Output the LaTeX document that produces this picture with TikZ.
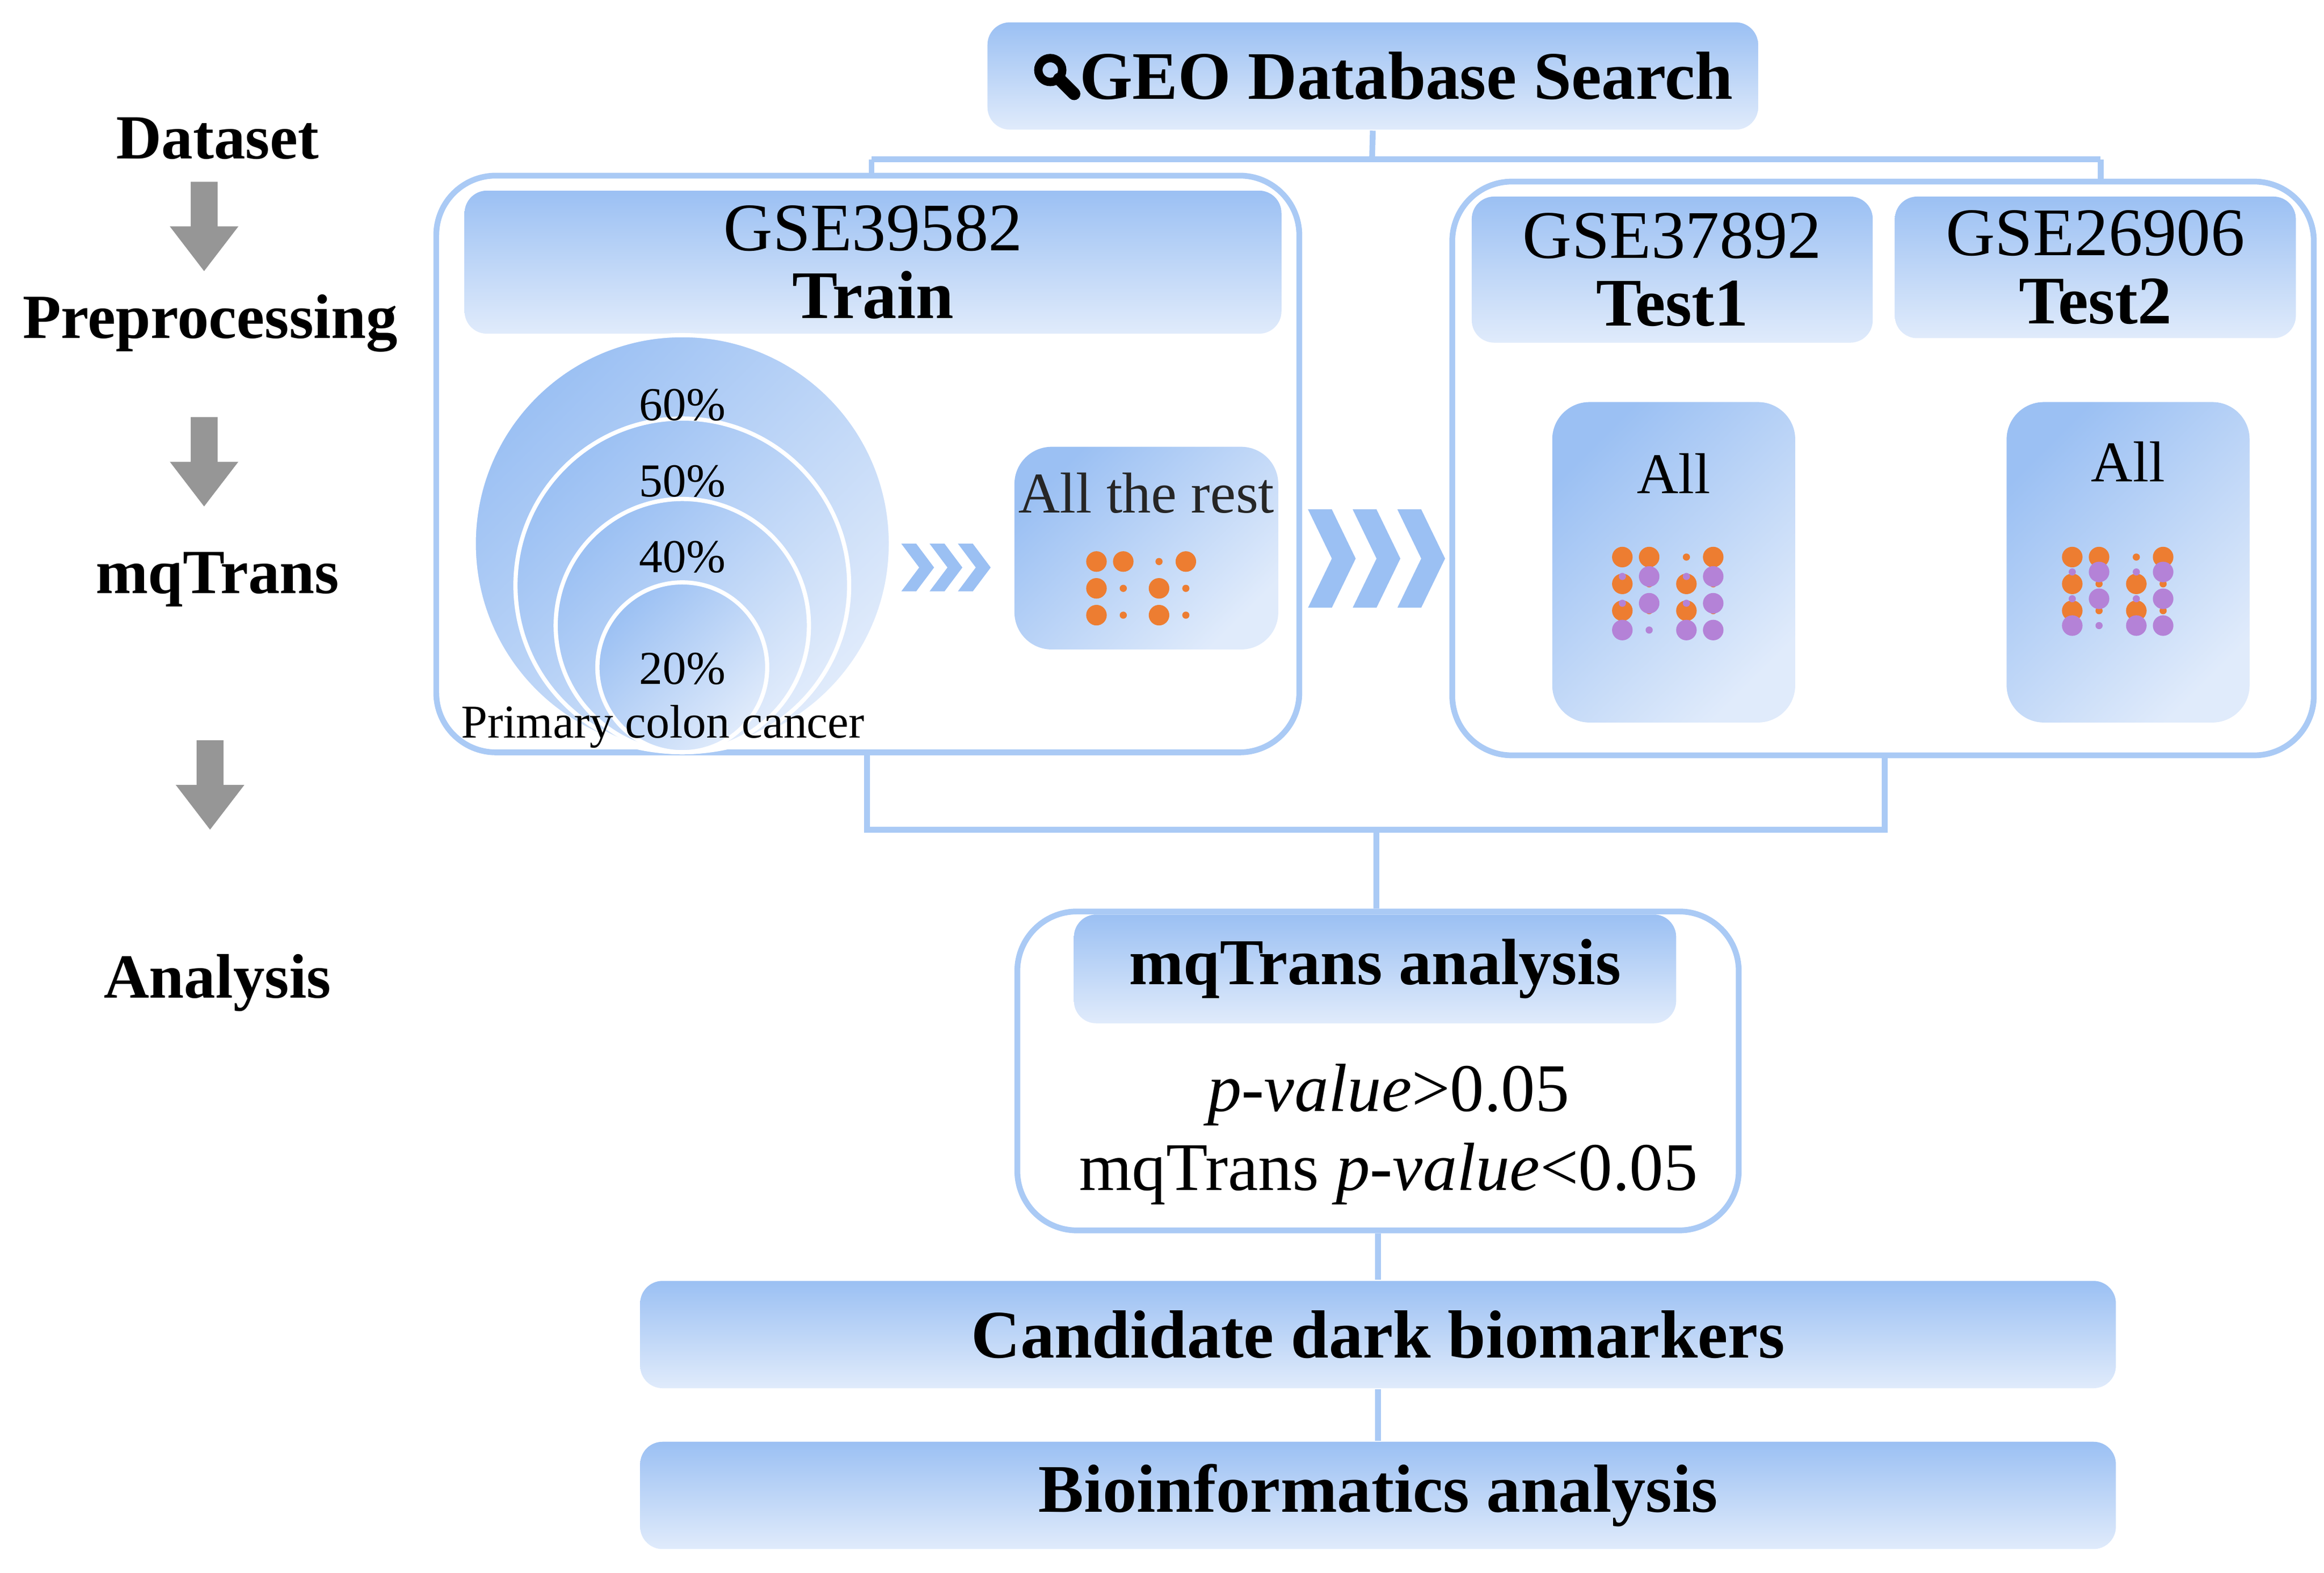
\documentclass[tikz,border=0pt]{standalone}
\usepackage{fontspec}
\setmainfont{Liberation Serif}
\begin{document}
\definecolor{gA}{RGB}{155,192,243}
\definecolor{gB}{RGB}{224,235,251}
\definecolor{lineB}{RGB}{170,202,245}
\definecolor{dotO}{RGB}{237,125,49}
\definecolor{dotP}{RGB}{180,130,215}
\definecolor{arrG}{RGB}{150,150,150}
\begin{tikzpicture}[x=0.01cm,y=-0.01cm,
  outer/.style={draw=lineB, line width=1.1pt, fill=white, rounded corners=0.4cm, inner sep=0pt},
  head/.style={rounded corners=0.15cm, top color=gA, bottom color=gB, inner sep=0pt, align=center},
  diag/.style={rounded corners=0.25cm, left color=gA, right color=gB, shading angle=45, inner sep=0pt},
  conn/.style={draw=lineB, line width=1.1pt},
  lbl/.style={font=\bfseries\fontsize{12}{14}\selectfont},
  garrow/.style={fill=arrG},
  od/.style={fill=dotO, circle, inner sep=0pt},
  pd/.style={fill=dotP, circle, inner sep=0pt}]
\useasboundingbox (0,0) rectangle (1560,1056);

% left stage labels
\node[lbl] (ds) at (146,93) {Dataset};
\node[lbl] (pp) at (141,217) {Preprocessing};
\node[lbl] (mq) at (146,389) {mqTrans};
\node[lbl] (an) at (146,660) {Analysis};
\foreach \x/\y in {137/122, 137/280, 141/497}
  \fill[garrow] (\x-9,\y) -- (\x+9,\y) -- (\x+9,\y+30) -- (\x+23,\y+30) -- (\x,\y+60)
    -- (\x-23,\y+30) -- (\x-9,\y+30) -- cycle;

% GEO search
\node[head, minimum width=5.17cm, minimum height=0.72cm, font=\bfseries\fontsize{13}{15}\selectfont] (geo) at (921.5,51)
  {\hspace{0.45cm}GEO Database Search};
\draw[line width=1.6pt] (705,47) circle (8);
\draw[line width=2.4pt, line cap=round] (711,53) -- (721,63);

% outer boxes
\node[outer, minimum width=5.79cm, minimum height=3.87cm] (train) at (582.5,311.5) {};
\node[outer, minimum width=5.78cm, minimum height=3.85cm] (test) at (1264,314.5) {};
\node[head, minimum width=5.48cm, minimum height=0.96cm, font=\fontsize{13}{15}\selectfont] (trh) at (586,176)
  {GSE39582\\[-2pt]\textbf{Train}};
\node[head, minimum width=2.69cm, minimum height=0.98cm, font=\fontsize{13}{15}\selectfont] (t1h) at (1122.5,181)
  {GSE37892\\[-2pt]\textbf{Test1}};
\node[head, minimum width=2.69cm, minimum height=0.95cm, font=\fontsize{13}{15}\selectfont] (t2h) at (1406.5,179.5)
  {GSE26906\\[-2pt]\textbf{Test2}};

% connectors from GEO
\coordinate (jg) at (921,107);
\coordinate (jl) at (585,107);
\coordinate (jr) at (1410,107);
\draw[conn] (geo.south) -- (jg);
\draw[conn] (jl) -- (jr);
\draw[conn] (jl) -- (jl |- train.north);
\draw[conn] (jr) -- (jr |- test.north);

% nested circles
\foreach \cy/\r in {365/140, 393/112, 420/85, 448/57}
  \shade[left color=gA, right color=gB, shading angle=45, draw=white, line width=0.8pt] (458,\cy) circle (\r);
\node[font=\fontsize{9}{11}\selectfont] (p60) at (458,272) {60\%};
\node[font=\fontsize{9}{11}\selectfont] (p50) at (458,323) {50\%};
\node[font=\fontsize{9}{11}\selectfont] (p40) at (458,374) {40\%};
\node[font=\fontsize{9}{11}\selectfont] (p20) at (458,449) {20\%};
\node[font=\fontsize{9}{11}\selectfont] (pcc) at (445,488) {Primary colon cancer};

% small chevrons
\foreach \x in {605,624,643}
  \fill[gA] (\x,365) -- (\x+10,365) -- (\x+22,381) -- (\x+10,397) -- (\x,397) -- (\x+12,381) -- cycle;
% big chevrons
\foreach \x in {878,908,938}
  \fill[gA] (\x,342) -- (\x+16,342) -- (\x+32,375) -- (\x+16,408) -- (\x,408) -- (\x+16,375) -- cycle;

% All the rest
\node[diag, minimum width=1.77cm, minimum height=1.36cm] (rest) at (769.5,368) {};
\node[font=\fontsize{11}{13}\selectfont, text=black!85] (restt) at (769.5,331) {All the rest};
\foreach \x/\y/\r in {736/377/6.9, 754/377/6.9, 778/377/2.4, 796/377/6.9,
  736/395/6.9, 754/395/2.4, 778/395/6.9, 796/395/2.4,
  736/413/6.9, 754/413/2.4, 778/413/6.9, 796/413/2.4}
  \fill[dotO] (\x,\y) circle (\r);

% All boxes
\node[diag, minimum width=1.63cm, minimum height=2.15cm] (all1) at (1123.5,377.5) {};
\node[diag, minimum width=1.63cm, minimum height=2.15cm] (all2) at (1428.5,377.5) {};
\node[font=\fontsize{11}{13}\selectfont] (all1t) at (1123.5,318) {All};
\node[font=\fontsize{11}{13}\selectfont] (all2t) at (1428.5,310) {All};
\foreach \xo/\po in {1089/387, 1391/384} {
  \foreach \c/\a/\b/\cc in {0/6.9/6.9/6.9, 18/6.9/2.4/2.4, 43/2.4/6.9/6.9, 61/6.9/2.4/2.4}
  {
    \fill[dotO] (\xo+\c,374) circle (\a);
    \fill[dotO] (\xo+\c,392) circle (\b);
    \fill[dotO] (\xo+\c,410) circle (\cc);
  }
  \foreach \c/\a/\b/\cc in {0/2.4/2.4/6.9, 18/6.9/6.9/2.4, 43/2.4/2.4/6.9, 61/6.9/6.9/6.9}
  {
    \fill[dotP] (\xo+\c,\po) circle (\a);
    \fill[dotP] (\xo+\c,\po+18) circle (\b);
    \fill[dotP] (\xo+\c,\po+36) circle (\cc);
  }
}

% analysis
\node[outer, minimum width=4.84cm, minimum height=2.14cm] (ana) at (925,719) {};
\node[head, minimum width=4.04cm, minimum height=0.73cm, font=\bfseries\fontsize{12.5}{15}\selectfont] (anh) at (923,650.5)
  {mqTrans analysis};
\node[font=\fontsize{13}{15}\selectfont] (pv1) at (932,735) {\textit{p-value}>0.05};
\node[font=\fontsize{13}{15}\selectfont] (pv2) at (932,788) {mqTrans \textit{p-value}<0.05};

\coordinate (bl) at (582,557);
\coordinate (br) at (1265,557);
\draw[conn] (bl |- train.south) -- (bl) -- (br) -- (br |- test.south);
\draw[conn] (ana.north -| 924,0) -- (924,557);

% candidate / bioinformatics
\node[head, minimum width=9.9cm, minimum height=0.72cm, font=\bfseries\fontsize{13}{15}\selectfont] (cand) at (925,896)
  {Candidate dark biomarkers};
\node[head, minimum width=9.9cm, minimum height=0.72cm, font=\bfseries\fontsize{13}{15}\selectfont] (bio) at (925,1004)
  {Bioinformatics analysis};
\draw[conn] (ana.south) -- (cand.north);
\draw[conn] (cand.south) -- (bio.north);
\end{tikzpicture}
\end{document}
